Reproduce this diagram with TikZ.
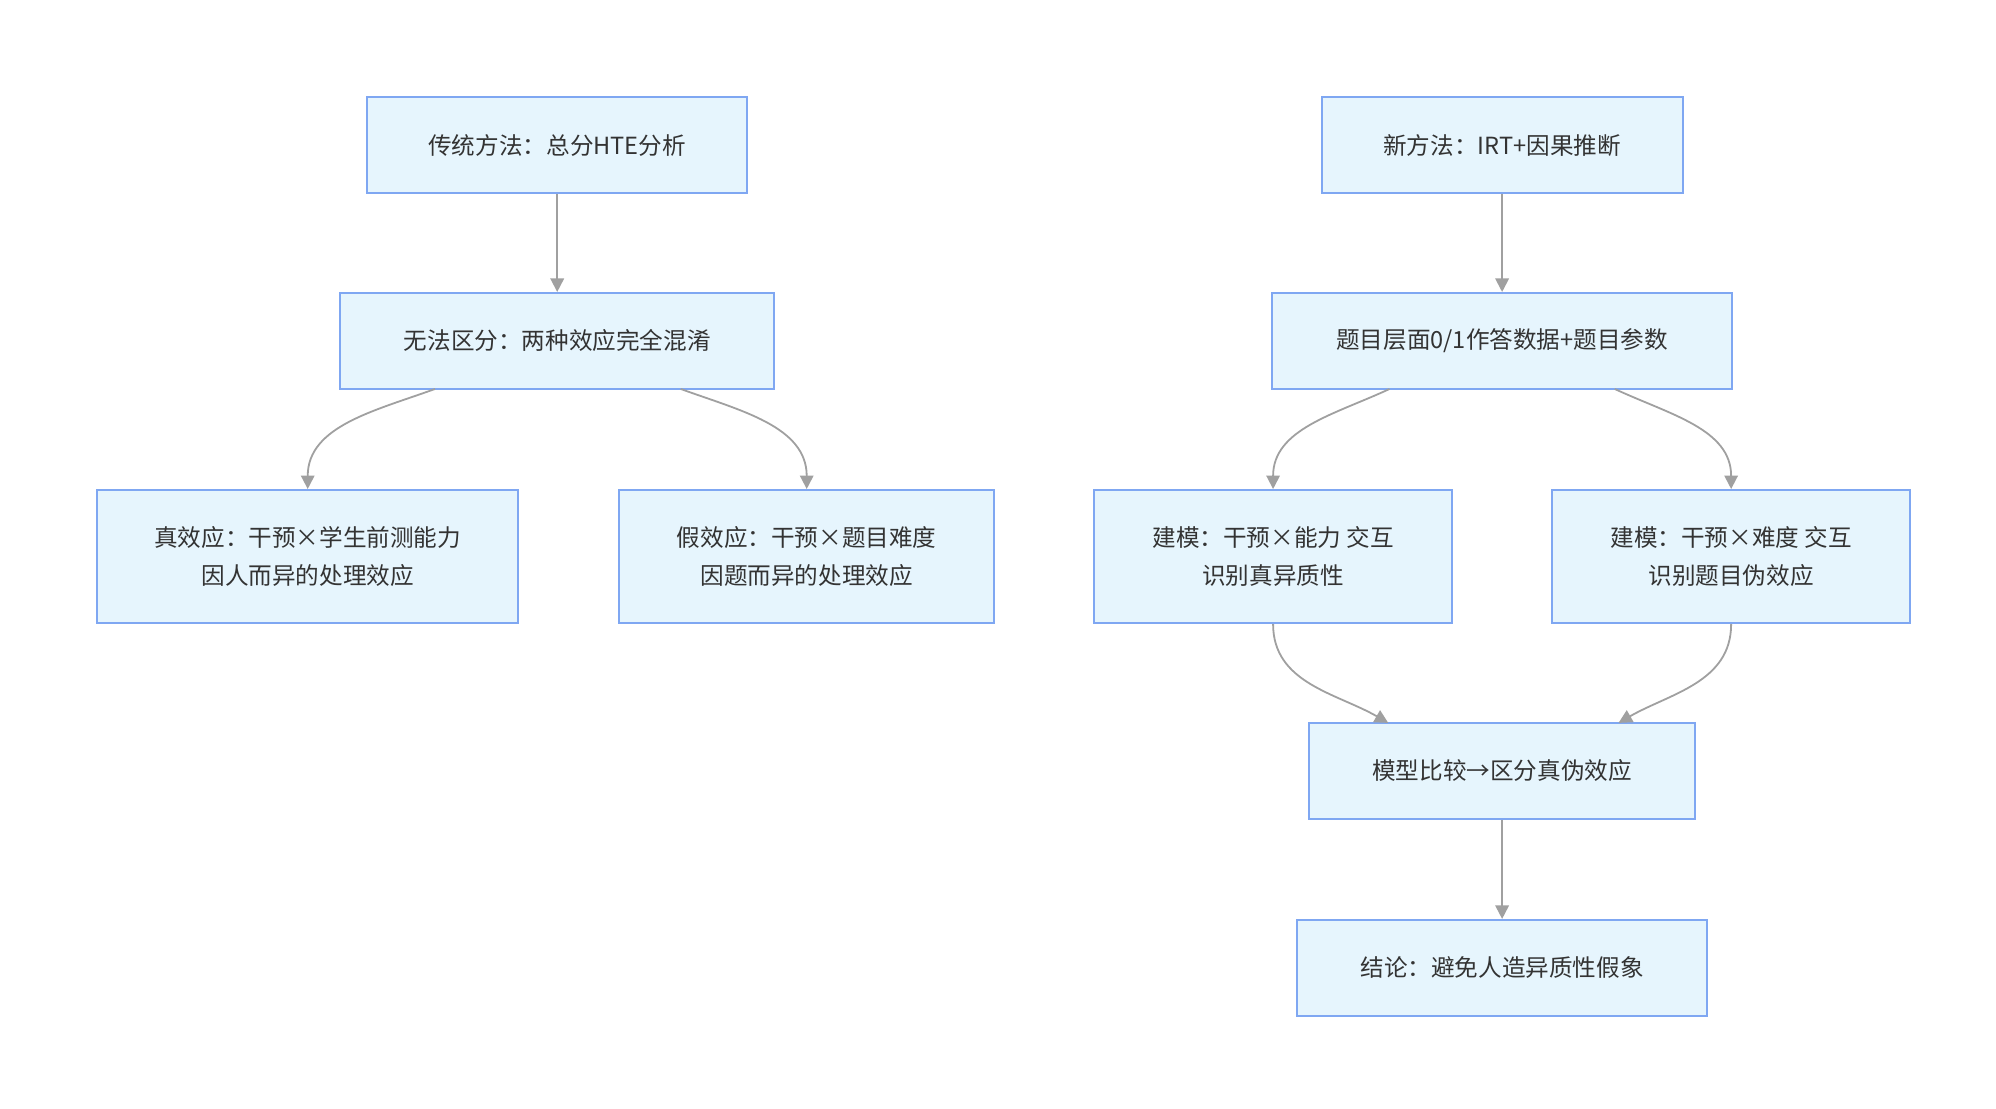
\documentclass[tikz,border=0pt]{standalone}
\usepackage{fontspec}
\setmainfont{Noto Sans CJK SC}
\usetikzlibrary{arrows.meta}
\definecolor{boxfill}{HTML}{E6F5FD}
\definecolor{boxline}{HTML}{7FA7F2}
\definecolor{linkgray}{HTML}{A0A0A0}
\tikzset{
  box/.style={draw=boxline, fill=boxfill, line width=0.9pt, align=center,
    font=\fontsize{10.5}{17}\selectfont, text=black!80, inner sep=0pt},
  link/.style={draw=linkgray, line width=0.8pt, -{Triangle[length=6pt,width=6pt]}}
}
\begin{document}
\begin{tikzpicture}[x=0.02cm,y=0.02cm]
	\useasboundingbox (0,0) rectangle (1560,866);
	% left column
	\node[box, minimum width=297*0.02cm, minimum height=75*0.02cm] (trad) at (435.5,752.5) {传统方法：总分HTE分析};
	\node[box, minimum width=339*0.02cm, minimum height=75*0.02cm] (mix) at (435.5,599.5) {无法区分：两种效应完全混淆};
	\node[box, minimum width=329*0.02cm, minimum height=104*0.02cm] (true) at (240.5,431) {真效应：干预×学生前测能力\\因人而异的处理效应};
	\node[box, minimum width=293*0.02cm, minimum height=104*0.02cm] (fake) at (630.5,431) {假效应：干预×题目难度\\因题而异的处理效应};
	% right column
	\node[box, minimum width=282*0.02cm, minimum height=75*0.02cm] (new) at (1174,752.5) {新方法：IRT+因果推断};
	\node[box, minimum width=360*0.02cm, minimum height=75*0.02cm] (data) at (1174,599.5) {题目层面0/1作答数据+题目参数};
	\node[box, minimum width=280*0.02cm, minimum height=104*0.02cm] (ability) at (995,431) {建模：干预×能力 交互\\识别真异质性};
	\node[box, minimum width=280*0.02cm, minimum height=104*0.02cm] (diff) at (1353,431) {建模：干预×难度 交互\\识别题目伪效应};
	\node[box, minimum width=302*0.02cm, minimum height=75*0.02cm] (cmp) at (1174,263.5) {模型比较→区分真伪效应};
	\node[box, minimum width=320*0.02cm, minimum height=75*0.02cm] (concl) at (1174,109.5) {结论：避免人造异质性假象};
	% connector ends
	\coordinate (mixL) at (340,562);
	\coordinate (mixR) at (532,562);
	\coordinate (dataL) at (1086,562);
	\coordinate (dataR) at (1262,562);
	\coordinate (cmpL) at (1085,301);
	\coordinate (cmpR) at (1265,301);
	\draw[link] (trad) -- (mix);
	\draw[link] (mixL) to[out=200, in=90] (true.north);
	\draw[link] (mixR) to[out=-20, in=90] (fake.north);
	\draw[link] (new) -- (data);
	\draw[link] (dataL) to[out=205, in=90] (ability.north);
	\draw[link] (dataR) to[out=-25, in=90] (diff.north);
	\draw[link] (ability.south) to[out=-90, in=150] (cmpL);
	\draw[link] (diff.south) to[out=-90, in=30] (cmpR);
	\draw[link] (cmp) -- (concl);
\end{tikzpicture}
\end{document}
